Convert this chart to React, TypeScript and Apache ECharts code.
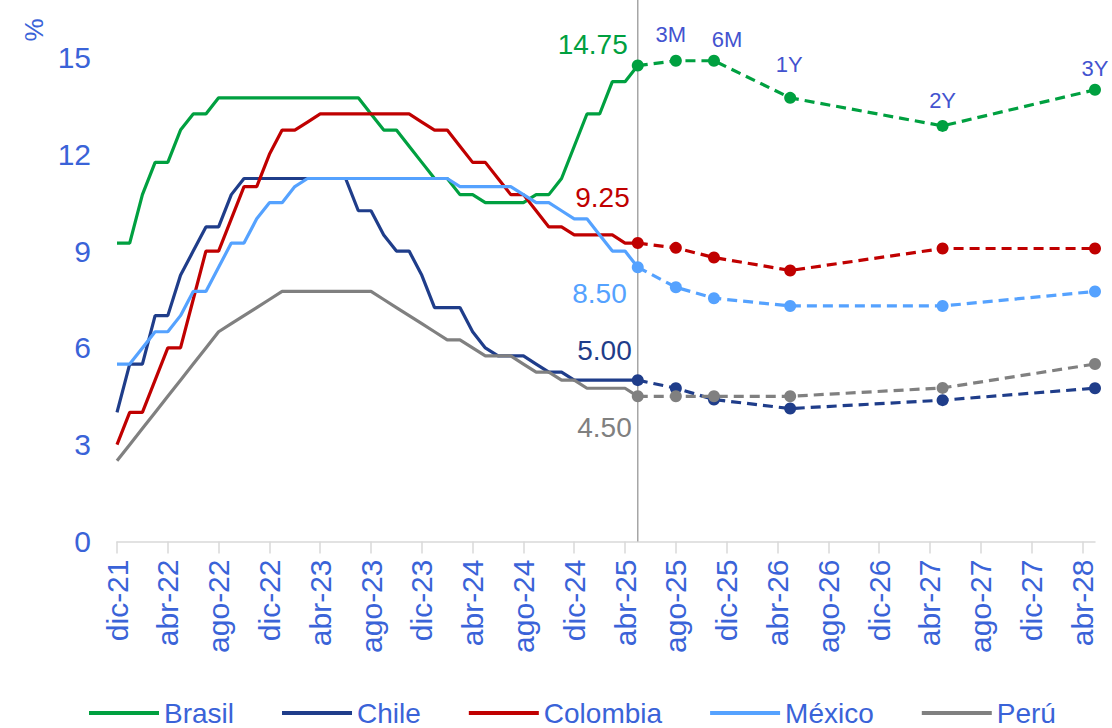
import React, { useEffect, useRef } from "react";
import * as echarts from "echarts";

const MONTHS = ["ene", "feb", "mar", "abr", "may", "jun", "jul", "ago", "sep", "oct", "nov", "dic"];
const categories: string[] = ["dic-21"];
for (let y = 22; y <= 28; y++) {
  for (let m = 0; m < 12; m++) {
    if (y === 28 && m > 4) break;
    categories.push(`${MONTHS[m]}-${y}`);
  }
}

const seriesNames = ["Brasil", "Chile", "Colombia", "México", "Perú"];
const colors = ["#00a040", "#1f3d8a", "#c00000", "#55a2ff", "#808080"];

// Monthly history dic-21 .. may-25
const brasil = [9.25, 9.25, 10.75, 11.75, 11.75, 12.75, 13.25, 13.25, 13.75, 13.75, 13.75, 13.75, 13.75, 13.75, 13.75, 13.75, 13.75, 13.75, 13.75, 13.75, 13.25, 12.75, 12.75, 12.25, 11.75, 11.25, 11.25, 10.75, 10.75, 10.5, 10.5, 10.5, 10.5, 10.75, 10.75, 11.25, 12.25, 13.25, 13.25, 14.25, 14.25, 14.75];
const chile = [4.0, 5.5, 5.5, 7.0, 7.0, 8.25, 9.0, 9.75, 9.75, 10.75, 11.25, 11.25, 11.25, 11.25, 11.25, 11.25, 11.25, 11.25, 11.25, 10.25, 10.25, 9.5, 9.0, 9.0, 8.25, 7.25, 7.25, 7.25, 6.5, 6.0, 5.75, 5.75, 5.75, 5.5, 5.25, 5.25, 5.0, 5.0, 5.0, 5.0, 5.0, 5.0];
const colombia = [3.0, 4.0, 4.0, 5.0, 6.0, 6.0, 7.5, 9.0, 9.0, 10.0, 11.0, 11.0, 12.0, 12.75, 12.75, 13.0, 13.25, 13.25, 13.25, 13.25, 13.25, 13.25, 13.25, 13.25, 13.0, 12.75, 12.75, 12.25, 11.75, 11.75, 11.25, 10.75, 10.75, 10.25, 9.75, 9.75, 9.5, 9.5, 9.5, 9.5, 9.25, 9.25];
const mexico = [5.5, 5.5, 6.0, 6.5, 6.5, 7.0, 7.75, 7.75, 8.5, 9.25, 9.25, 10.0, 10.5, 10.5, 11.0, 11.25, 11.25, 11.25, 11.25, 11.25, 11.25, 11.25, 11.25, 11.25, 11.25, 11.25, 11.25, 11.0, 11.0, 11.0, 11.0, 11.0, 10.75, 10.5, 10.5, 10.25, 10.0, 10.0, 9.5, 9.0, 9.0, 8.5];
const peru = [2.5, 3.0, 3.5, 4.0, 4.5, 5.0, 5.5, 6.0, 6.5, 6.75, 7.0, 7.25, 7.5, 7.75, 7.75, 7.75, 7.75, 7.75, 7.75, 7.75, 7.75, 7.5, 7.25, 7.0, 6.75, 6.5, 6.25, 6.25, 6.0, 5.75, 5.75, 5.75, 5.5, 5.25, 5.25, 5.0, 5.0, 4.75, 4.75, 4.75, 4.75, 4.5];

// Forecast points: current, 3M, 6M, 1Y, 2Y, 3Y
const forecastDates = ["may-25", "ago-25", "nov-25", "may-26", "may-27", "may-28"];
const tenorLabels = ["", "3M", "6M", "1Y", "2Y", "3Y"];
const brasilF = [14.75, 14.9, 14.9, 13.75, 12.88, 14.0];
const chileF = [5.0, 4.75, 4.4, 4.12, 4.38, 4.75];
const colombiaF = [9.25, 9.1, 8.8, 8.4, 9.08, 9.08];
const mexicoF = [8.5, 7.88, 7.54, 7.3, 7.3, 7.75];
const peruF = [4.5, 4.5, 4.5, 4.5, 4.76, 5.5];

const history = [brasil, chile, colombia, mexico, peru];
const forecasts = [brasilF, chileF, colombiaF, mexicoF, peruF];

const FONT = "'Liberation Sans', Arial, sans-serif";
const AXIS_COLOR = "#3a63d8";
const TENOR_COLOR = "#4353cf";

// label placement for the current value (offset from the point)
const currentLabelOffsets: number[][] = [[-10, -21], [-6, -30], [-8, -46], [-11, 26], [-6, 31]];
const tenorOffsets: number[][] = [[0, 0], [-5, -26], [13, -21], [-1, -33], [0, -25], [0, -21]];

export default function App() {
  const ref = useRef<HTMLDivElement>(null);
  useEffect(() => {
    if (!ref.current) return;
    const chart = echarts.init(ref.current, undefined, { renderer: "svg" });

    const series: any[] = [];
    history.forEach((h, i) => {
      series.push({
        name: seriesNames[i],
        type: "line",
        data: h,
        symbol: "none",
        lineStyle: { color: colors[i], width: 3.2 },
        itemStyle: { color: colors[i] },
        z: 3,
      });
    });
    forecasts.forEach((f, i) => {
      const data: any[] = categories.map(() => null);
      const offsetByIndex: Record<number, number[]> = {};
      forecastDates.forEach((d, k) => {
        const idx = categories.indexOf(d);
        const item: any = { value: f[k] };
        if (k === 0) {
          offsetByIndex[idx] = currentLabelOffsets[i];
          item.label = {
            show: true,
            formatter: (p: any) => Number(p.value).toFixed(2),
            position: "inside",
            align: "right",
            verticalAlign: "middle",
            color: colors[i],
            fontSize: 28,
            fontFamily: FONT,
          };
        } else if (i === 0) {
          offsetByIndex[idx] = tenorOffsets[k];
          item.label = {
            show: true,
            formatter: tenorLabels[k],
            position: "inside",
            align: "center",
            verticalAlign: "middle",
            color: TENOR_COLOR,
            fontSize: 22,
            fontFamily: FONT,
          };
        }
        data[idx] = item;
      });
      series.push({
        name: seriesNames[i] + " proyección",
        type: "line",
        data,
        connectNulls: true,
        symbol: "circle",
        symbolSize: 12,
        showSymbol: true,
        showAllSymbol: true,
        lineStyle: { color: colors[i], width: 3.2, type: [10, 6] },
        itemStyle: { color: colors[i] },
        labelLayout: (p: any) => {
          const o = offsetByIndex[p.dataIndex] || [0, 0];
          return { dx: o[0], dy: o[1], hideOverlap: false };
        },
        z: 4,
      });
    });

    chart.setOption({
      animation: false,
      backgroundColor: "#ffffff",
      textStyle: { fontFamily: FONT },
      grid: { left: 117, right: 17, top: 57.5, bottom: 186.5, containLabel: false },
      legend: {
        data: seriesNames,
        left: 84,
        top: 694,
        itemWidth: 70,
        itemHeight: 4,
        itemGap: 48,
        icon: "rect",
        textStyle: { fontSize: 28, color: AXIS_COLOR, fontFamily: FONT },
      },
      xAxis: {
        type: "category",
        data: categories,
        boundaryGap: false,
        axisLine: { show: true, lineStyle: { color: "#d9d9d9", width: 1.5 } },
        axisTick: { show: true, interval: 3, length: 12, lineStyle: { color: "#d9d9d9", width: 1.5 } },
        axisLabel: { interval: 3, rotate: 90, fontSize: 30, color: AXIS_COLOR, margin: 18, fontFamily: FONT },
        splitLine: { show: false },
      },
      yAxis: {
        type: "value",
        min: 0,
        max: 15,
        interval: 3,
        axisLine: { show: false },
        axisTick: { show: false },
        splitLine: { show: false },
        axisLabel: { fontSize: 30, color: AXIS_COLOR, margin: 26, fontFamily: FONT },
      },
      series,
    });

    const xLine = chart.convertToPixel({ xAxisIndex: 0 }, "may-25") as number;
    const yBase = chart.convertToPixel({ yAxisIndex: 0 }, 0) as number;
    chart.setOption({
      graphic: [
        {
          type: "line",
          z: 1,
          shape: { x1: xLine, y1: 0, x2: xLine, y2: yBase },
          style: { stroke: "#a6a6a6", lineWidth: 1.5 },
        },
        {
          type: "text",
          x: 34,
          y: 30,
          rotation: Math.PI / 2,
          style: {
            text: "%",
            fontSize: 26,
            fill: AXIS_COLOR,
            fontFamily: FONT,
            align: "center",
            verticalAlign: "middle",
          },
        },
      ],
    });

    return () => chart.dispose();
  }, []);
  return <div ref={ref} style={{ position: "fixed", left: 0, top: 0, width: 1112, height: 728 }} />;
}
